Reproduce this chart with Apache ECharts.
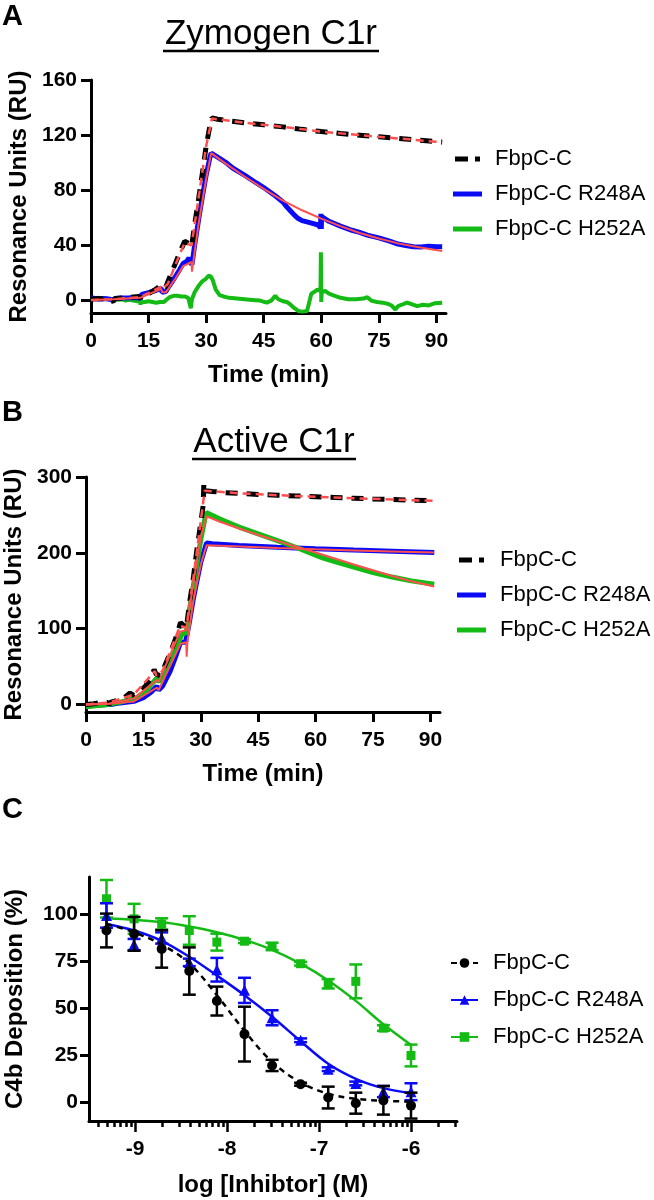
<!DOCTYPE html>
<html><head><meta charset="utf-8">
<script src="https://cdn.jsdelivr.net/npm/echarts@6/dist/echarts.min.js"></script>
<style>
html,body{margin:0;padding:0;background:#fff;}
.p{position:absolute;left:0;width:654px;}
#a{top:0;height:400px} #b{top:400px;height:400px} #c{top:780px;height:420px}
</style>
</head><body>
<div id="a" class="p"></div><div id="b" class="p"></div><div id="c" class="p"></div>
<script>
const FONT = "'Liberation Sans', Arial, Helvetica, sans-serif";
const BLACK = '#000000', BLUE = '#0a0af5', GREEN = '#14bb14', RED = '#ff4f4f';
const NAMES = ['FbpC-C', 'FbpC-C R248A', 'FbpC-C H252A'];

// ---------- Panel A : Zymogen C1r ----------
const A_xTicks = [0, 15, 30, 45, 60, 75, 90];
const A_yTicks = [0, 40, 80, 120, 160];
const A_black = [[0,1],[2,1.5],[4,1],[5.8,-0.5],[6.3,1.5],[9,2],[12.5,3],[12.9,1.5],[13.3,4],[15,5],[16.5,7.5],[18.2,11],[18.6,9],[19.5,10],[20.5,17],[22,27],[23,34],[24.4,43],[25.5,41.5],[26.2,39],[27,55],[28,73],[29,92],[30,112],[31,127],[31.5,132.5],[33,131.5],[36,130.3],[40,129],[45,127.5],[50,126],[55,124.2],[60,122.6],[65,121.2],[70,120],[75,118.8],[80,117.6],[85,116.5],[90,115.3],[91.5,115]];
const A_blackFit = [[0,0.5],[5.8,1],[6,0.5],[12.8,2.5],[13,3],[18.3,10],[18.5,8.5],[20,12],[22,26],[24.4,42],[26.2,40],[28,74],[30,112],[31.5,132],[40,129],[50,126],[60,122.6],[70,120],[80,117.6],[91.5,114.8]];
const A_blue = [[0,2],[1,1.5],[2,1.2],[3,1.5],[4,1.3],[5,1],[5.8,0],[6.2,1.5],[8,1.8],[10,2],[12,2.3],[12.8,1.5],[13.2,4.5],[15,5.8],[17,7.5],[18.3,9],[18.5,6],[19.5,6.5],[20,9],[21,13],[22,17.5],[23,22],[24,27],[25,28.5],[25.5,31],[26,28],[26.3,26],[27,40],[28,58],[29,75],[30,91],[31,104],[31.3,107],[33,104],[35,100.5],[37,96],[40,91],[43,85.5],[45,82],[48,76],[50,71.5],[51,68],[52,65],[53,62],[54,59.5],[55,58],[57,56.5],[59,55],[59.8,53],[59.9,63],[60,52],[60.1,61],[62,57.5],[65,54],[68,51],[70,49.5],[72,47.5],[75,45.5],[78,43],[80,41],[82,40],[84,39],[86,38.8],[88,39.5],[90,39],[91.5,39]];
const A_blueFit = [[0,0.5],[5.8,1],[6,0.5],[12.8,2],[13,3],[18.3,8.5],[18.5,6],[19.5,6],[20,8],[22,16],[24,25],[26.2,28],[26.3,21],[26.5,25],[28,55],[30,88],[31.3,107],[35,99.5],[40,90],[45,81],[50,72.5],[55,65.5],[60,59.5],[65,54],[70,49],[75,45],[80,41.5],[85,38.8],[91.5,36]];
const A_green = [[0,2],[1,1.5],[2,2],[3,1],[4,1.5],[5,0.5],[6,1],[7,0.5],[8,1],[9,0],[10,0.5],[11,0],[12,-0.5],[12.8,-0.5],[12.9,-3],[13,-1],[14,-1],[15,-0.5],[16,-1],[17,-1.5],[18,-1],[19,-1],[19.8,1],[20.5,2.5],[21.5,3.5],[22.5,3.5],[23.5,3],[24.5,3],[25.3,2],[25.7,-2],[26,-5.5],[26.3,1],[27,6],[28,10.5],[29,14],[30,16],[30.6,18],[31.2,17.5],[31.7,15],[32.5,8],[33.5,4],[34.5,3],[36,2],[38,1.5],[40,1],[42,0.5],[44,0],[45.8,-1.5],[47,0],[48,3.5],[48.8,1],[50,-0.5],[51,-1],[52,-3],[53,-5.5],[54,-7.5],[55,-8],[56.3,-7.5],[56.8,-2],[57.4,5],[58,6],[59,8],[59.8,7],[59.9,35],[60,-1],[60.1,6],[61,7],[62,5],[63,4],[65,2],[67,1],[69,1],[71,1.5],[72,2.5],[73,0],[74.5,-1],[76,-1.5],[77.5,-2.5],[78.5,-4],[79.3,-6.5],[80,-4],[81,-3],[82.3,-1.5],[83.5,-2.5],[85,-4],[86.5,-3],[88,-3.5],[89.5,-2],[91.5,-1.5]];

// ---------- Panel B : Active C1r ----------
const B_xTicks = [0, 15, 30, 45, 60, 75, 90];
const B_yTicks = [0, 100, 200, 300];
const B_black = [[0,0],[2,1],[4,2.5],[5.5,3],[6,0],[6.5,3],[8,5],[10,9],[11.5,15],[12.5,12],[13,14],[14,17],[15.5,24],[17,35],[17.8,46],[18.3,40],[19.3,38],[20.5,50],[22,68],[23.5,88],[24.7,108],[25.5,104],[26.2,100],[27,132],[28,165],[29,205],[30,240],[30.6,262],[30.8,292],[31.2,282],[33,281],[36,279.5],[40,278.3],[45,277],[50,276],[55,275],[60,274],[65,273],[70,272],[75,271],[80,270.3],[85,269.5],[91,268.5]];
const B_blackFit = [[0,0],[6,2.5],[6.2,1],[12.5,13],[13,12],[18,44],[18.4,38],[20,44],[24.6,104],[26.2,101],[28,165],[30,242],[31,282],[40,278.5],[50,276],[60,274],[70,272],[80,270.3],[91,268.5]];
const B_blue = [[0,-2],[3,-1],[5.5,0],[6,-2],[6.5,0],[9,2],[12.5,4],[13,5],[15,9],[17,16],[18.5,24],[19,19],[20,24],[22,44],[23.5,64],[24.7,82],[26,82],[26.3,80],[27,108],[28,138],[29,163],[30,188],[31.5,213],[33,212],[40,209.5],[50,207.3],[60,205.5],[70,203.8],[80,202.2],[91,200.5]];
const B_blueFit = [[0,0],[6,1],[6.2,0],[12.5,4],[13,4.5],[18.5,22],[19,19],[24.7,80],[26.2,82],[26.3,63],[26.5,82],[28,135],[30,185],[31.5,210],[40,208.3],[50,206.3],[60,204.7],[70,203.2],[80,201.8],[91,200.3]];
const B_green = [[0,-3],[3,-1.5],[6,0],[9,3],[12,7],[13,8],[15,15],[17,26],[18.4,34],[19,30],[20,37],[22,57],[24,80],[25,92],[26.2,95],[27,124],[28,155],[29,185],[30,218],[31.4,253],[35,244.5],[40,234],[45,225],[50,216],[55,207],[60,197],[62,193],[65,188.5],[70,181],[75,174],[80,168],[85,163],[91,158.5]];
const B_greenFit = [[0,0],[6,1],[12.5,8],[13,8],[18.4,32],[19,30],[24.6,96],[26.2,98],[28,158],[30,222],[31.5,248],[35,241],[40,232],[45,223.5],[50,215.5],[55,208],[60,200.5],[65,192.5],[70,184.5],[75,177],[80,169.5],[85,162.5],[91,155.5]];

// ---------- Panel C : C4b deposition ----------
const C_xTicks = [-9, -8, -7, -6];
const C_yTicks = [0, 25, 50, 75, 100];
const C_minorConc = [4e-10,5e-10,6e-10,7e-10,8e-10,9e-10,2e-9,3e-9,4e-9,5e-9,6e-9,7e-9,8e-9,9e-9,2e-8,3e-8,4e-8,5e-8,6e-8,7e-8,8e-8,9e-8,2e-7,3e-7,4e-7,5e-7,6e-7,7e-7,8e-7,9e-7,2e-6,3e-6];
const C_logConc = [-9.31, -9.01, -8.71, -8.41, -8.11, -7.81, -7.51, -7.20, -6.90, -6.60, -6.30, -6.00];
const C_blackMean = [91.5, 89.7, 81.7, 69.9, 53.9, 36.3, 19.6, 9.6, 2.5, -0.5, 1.0, -1.8];
const C_blackErr  = [9, 9, 10, 12.6, 7.7, 14.6, 3, 0.8, 5.8, 5.6, 7.6, 6.9];
const C_blueMean  = [99.5, 84, 87.5, 74.5, 70.6, 59.6, 45, 33, 17.6, 10, 5.7, 5.6];
const C_blueErr   = [6.5, 3, 3, 2, 6.3, 6.7, 4, 1, 1, 1, 3, 4.5];
const C_greenMean = [108.4, 97.7, 95, 91.5, 85.3, 85.8, 83, 73.8, 63.1, 64.4, 39.5, 24.9];
const C_greenErr  = [10, 8, 3, 7.6, 4.5, 1, 2, 1, 2.5, 9, 1.5, 5.8];
const C_blackFit = [95, 90.5, 84, 74, 57, 38, 21.5, 10.5, 4.5, 1.8, 0.8, 0.3];
const C_blueFit  = [95, 91.5, 86, 77.5, 67.5, 57, 45.5, 32.5, 20.5, 12.5, 7.5, 4.8];
const C_greenFit = [98, 97.2, 96, 93.6, 90.6, 86.5, 81.2, 73.8, 64.9, 54, 41.5, 30.5];

// ---------- helpers ----------
const txt = (size, weight) => ({ fontFamily: FONT, fontSize: size, fontWeight: weight || 'bold', color: '#000' });
function valueAxis(min, max, ticks, name, nameGap, labelMargin, tickLen) {
  return {
    type: 'value', min, max, name, nameLocation: 'middle', nameGap,
    nameTextStyle: txt(24),
    axisLine: { show: true, onZero: false, lineStyle: { color: '#000', width: 3 } },
    axisTick: { show: true, customValues: ticks, length: tickLen, lineStyle: { color: '#000', width: 3 } },
    axisLabel: { customValues: ticks, margin: labelMargin, ...txt(21) },
    splitLine: { show: false }
  };
}
function line(name, data, color, width, dash, z) {
  return { type: 'line', name, data, symbol: 'none', z: z || 2, silent: true,
    itemStyle: { color }, lineStyle: { color, width, type: dash || 'solid' } };
}
function headerGraphics(letter, letterY, title, titleX, titleY, ulX1, ulX2, ulY) {
  const g = [{ type: 'text', style: { text: letter, x: 2, y: letterY, verticalAlign: 'middle', align: 'left',
    fontFamily: FONT, fontSize: 29, fontWeight: 'bold', fill: '#000' } }];
  if (title) {
    g.push({ type: 'text', style: { text: title, x: titleX, y: titleY, align: 'center', verticalAlign: 'middle',
      fontFamily: FONT, fontSize: 35, fontWeight: 'normal', fill: '#000' } });
    g.push({ type: 'line', shape: { x1: ulX1, y1: ulY, x2: ulX2, y2: ulY }, style: { stroke: '#000', lineWidth: 2.5 } });
  }
  return g;
}
const DASH_ICON = 'path://M0,0H13V5H0ZM20,0H25V5H20Z';
function kineticLegend(left, top, padLeft) {
  return {
    orient: 'vertical', left, top, padding: 0, itemWidth: 29, itemHeight: 5, itemGap: 13,
    selectedMode: false,
    textStyle: { fontFamily: FONT, fontSize: 22, color: '#000', lineHeight: 22, padding: [0, 0, 0, padLeft] },
    data: [{ name: NAMES[0], icon: DASH_ICON }, { name: NAMES[1], icon: 'rect' }, { name: NAMES[2], icon: 'rect' }]
  };
}

// ---------- chart A ----------
const chartA = echarts.init(document.getElementById('a'), null, { renderer: 'canvas' });
chartA.setOption({
  animation: false, backgroundColor: 'transparent',
  graphic: headerGraphics('A', 17, 'Zymogen C1r', 271, 34.5, 163, 379, 51),
  grid: { left: 91, top: 80, width: 355, height: 233, outerBoundsMode: 'none' },
  xAxis: valueAxis(0, 92.5, A_xTicks, 'Time (min)', 50, 18, 10),
  yAxis: valueAxis(-9, 160, A_yTicks, 'Resonance Units (RU)', 59, 14, 10),
  legend: kineticLegend(453, 148, 8),
  series: [
    line(NAMES[2], A_green, GREEN, 4, 'solid', 2),
    line(NAMES[1], A_blue, BLUE, 5, 'solid', 3),
    line(NAMES[0], A_black, BLACK, 5, [12, 9], 4),
    line('fitA1', A_blueFit, RED, 2, 'solid', 5),
    line('fitA0', A_blackFit, RED, 2.5, [8, 5], 6)
  ]
});

// ---------- chart B ----------
const chartB = echarts.init(document.getElementById('b'), null, { renderer: 'canvas' });
chartB.setOption({
  animation: false, backgroundColor: 'transparent',
  graphic: headerGraphics('B', 12.5, 'Active C1r', 274, 42, 192, 356, 59),
  grid: { left: 86, top: 77, width: 354, height: 235, outerBoundsMode: 'none' },
  xAxis: valueAxis(0, 92.5, B_xTicks, 'Time (min)', 50, 18, 10),
  yAxis: valueAxis(-10, 300, B_yTicks, 'Resonance Units (RU)', 59, 14, 10),
  legend: kineticLegend(457, 149, 9),
  series: [
    line(NAMES[1], B_blue, BLUE, 5, 'solid', 2),
    line(NAMES[2], B_green, GREEN, 5, 'solid', 3),
    line(NAMES[0], B_black, BLACK, 5, [12, 9], 4),
    line('fitB1', B_blueFit, RED, 2, 'solid', 5),
    line('fitB2', B_greenFit, RED, 2, 'solid', 5),
    line('fitB0', B_blackFit, RED, 2.5, [8, 5], 6)
  ]
});

// ---------- chart C ----------
function zip(xs, ys) { return xs.map((x, i) => [x, ys[i]]); }
function errSeries(name, color, xs, means, errs, z) {
  return {
    type: 'custom', name, z, silent: true,
    data: xs.map((x, i) => [x, means[i] - errs[i], means[i] + errs[i]]),
    encode: { x: 0, y: [1, 2] },
    renderItem: (params, api) => {
      const x = api.value(0), lo = api.value(1), hi = api.value(2);
      const pHi = api.coord([x, hi]), pLo = api.coord([x, lo]);
      const s = { stroke: color, lineWidth: 2.5 };
      const w = 6.5;
      return { type: 'group', children: [
        { type: 'line', shape: { x1: pHi[0], y1: pHi[1], x2: pLo[0], y2: pLo[1] }, style: s },
        { type: 'line', shape: { x1: pHi[0] - w, y1: pHi[1], x2: pHi[0] + w, y2: pHi[1] }, style: s },
        { type: 'line', shape: { x1: pLo[0] - w, y1: pLo[1], x2: pLo[0] + w, y2: pLo[1] }, style: s }
      ] };
    }
  };
}
function curve(name, ys, color, dash, symbol, z) {
  return { type: 'line', name, data: zip(C_logConc, ys), smooth: 0.35, showSymbol: false, symbol, symbolSize: 10,
    z, silent: true, itemStyle: { color }, lineStyle: { color, width: 2.5, type: dash } };
}
function points(name, ys, color, symbol, size, z) {
  return { type: 'scatter', name, data: zip(C_logConc, ys), symbol, symbolSize: size, z, silent: true,
    itemStyle: { color, opacity: 1 } };
}
const minorTicks = C_minorConc.map(c => Math.log10(c));
const xMain = valueAxis(-9.5, -5.5, C_xTicks, 'log [Inhibtor] (M)', 52, 18, 11);
xMain.axisTick.lineStyle.width = 2.5;
const chartC = echarts.init(document.getElementById('c'), null, { renderer: 'canvas' });
chartC.setOption({
  animation: false, backgroundColor: 'transparent',
  graphic: headerGraphics('C', 30),
  grid: { left: 89, top: 97, width: 368, height: 244, outerBoundsMode: 'none' },
  xAxis: [
    xMain,
    { type: 'value', min: -9.5, max: -5.5, position: 'bottom', offset: 0,
      axisLine: { show: false, onZero: false }, axisLabel: { show: false }, splitLine: { show: false },
      axisTick: { show: true, customValues: minorTicks, length: 6, lineStyle: { color: '#000', width: 2.5 } } }
  ],
  yAxis: valueAxis(-10, 120, C_yTicks, 'C4b Deposition (%)', 62, 11, 9),
  legend: {
    orient: 'vertical', left: 450, top: 172, padding: 0, itemWidth: 27, itemHeight: 12, itemGap: 15,
    selectedMode: false,
    textStyle: { fontFamily: FONT, fontSize: 22, color: '#000', lineHeight: 22, padding: [0, 0, 0, 10] },
    data: NAMES
  },
  series: [
    curve(NAMES[0], C_blackFit, BLACK, [6, 5], 'circle', 6),
    curve(NAMES[1], C_blueFit, BLUE, 'solid', 'triangle', 4),
    curve(NAMES[2], C_greenFit, GREEN, 'solid', 'rect', 2),
    errSeries(NAMES[2], GREEN, C_logConc, C_greenMean, C_greenErr, 2),
    points(NAMES[2], C_greenMean, GREEN, 'rect', 9, 3),
    errSeries(NAMES[1], BLUE, C_logConc, C_blueMean, C_blueErr, 4),
    points(NAMES[1], C_blueMean, BLUE, 'triangle', 11, 5),
    errSeries(NAMES[0], BLACK, C_logConc, C_blackMean, C_blackErr, 6),
    points(NAMES[0], C_blackMean, BLACK, 'circle', 10, 7)
  ]
});
</script>
</body></html>
